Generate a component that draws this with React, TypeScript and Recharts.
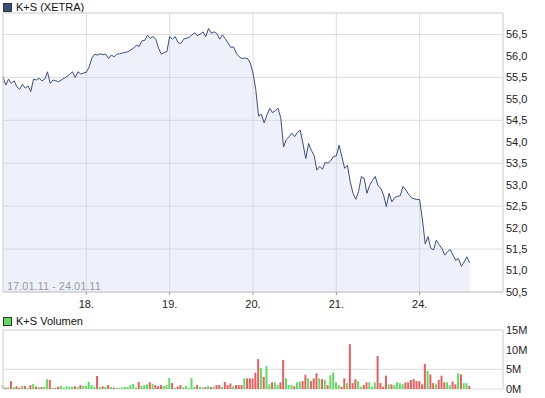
import React from "react";
import {
  Area,
  Bar,
  CartesianGrid,
  Cell,
  ComposedChart,
  ReferenceLine,
  XAxis,
  YAxis,
} from "recharts";

// 30 samples per trading day, x = sample index
const dayLabels = ["18.", "19.", "20.", "21.", "24."];
const dayTicks = [30, 60, 90, 120, 150];
const priceTicks = [50.5, 51, 51.5, 52, 52.5, 53, 53.5, 54, 54.5, 55, 55.5, 56, 56.5];
const volumeTicks = [0, 5, 10, 15];

const price = [
  // 17.
  55.52, 55.32, 55.46, 55.36, 55.42, 55.28, 55.22, 55.34, 55.25, 55.3,
  55.17, 55.46, 55.44, 55.48, 55.42, 55.46, 55.63, 55.36, 55.44, 55.42,
  55.4, 55.44, 55.48, 55.52, 55.57, 55.63, 55.5, 55.63, 55.58, 55.6,
  // 18.
  55.62, 55.74, 55.95, 56.04, 56.02, 56.05, 56.03, 56.04, 55.94, 56.02,
  55.98, 56.04, 56.05, 56.07, 56.08, 56.1, 56.14, 56.18, 56.25, 56.22,
  56.35, 56.36, 56.48, 56.41, 56.45, 56.39, 56.18, 56.04, 56.08, 56.1,
  // 19.
  56.45, 56.39, 56.45, 56.31, 56.29, 56.39, 56.41, 56.43, 56.49, 56.54,
  56.47, 56.51, 56.56, 56.45, 56.64, 56.53, 56.56, 56.52, 56.39, 56.49,
  56.4, 56.3, 56.2, 56.21, 56.06, 55.98, 55.94, 55.95, 55.94, 55.84,
  // 20.
  55.6, 55.22, 54.6, 54.64, 54.44, 54.62, 54.78, 54.68, 54.72, 54.78,
  54.56, 53.88, 54.05, 54.12, 54.2, 54.12, 54.22, 54.27, 53.95, 53.61,
  53.96, 53.8, 53.68, 53.34, 53.43, 53.36, 53.52, 53.5, 53.56, 53.66,
  // 21.
  53.67, 53.92, 53.65, 53.38, 53.45, 53.07, 52.8, 52.66, 52.84, 53.19,
  53.15, 52.8, 52.99, 53.1, 53.19, 52.98, 52.92, 52.76, 52.49, 52.8,
  52.6, 52.7, 52.73, 52.74, 52.96, 52.88, 52.78, 52.7, 52.67, 52.66,
  // 24.
  52.65, 52.18, 51.62, 51.79, 51.52, 51.48, 51.71, 51.6, 51.52, 51.36,
  51.44, 51.49, 51.36, 51.24, 51.28, 51.1, 51.2, 51.32, 51.18,
];

// volume in millions
const volume = [
  // 17.
  1.0, 0.35, 0.35, 2.0, 0.5, 0.7, 0.35, 0.8, 0.8, 0.3,
  1.0, 1.3, 0.6, 0.5, 0.5, 0.6, 2.5, 2.3, 0.3, 0.3,
  0.6, 0.8, 0.3, 0.7, 0.6, 0.6, 0.7, 0.5, 1.0, 0.8,
  // 18.
  0.8, 1.8, 1.0, 0.6, 3.3, 0.5, 0.7, 0.6, 1.0, 0.5,
  0.4, 0.3, 0.3, 0.4, 0.5, 0.5, 1.0, 1.3, 0.4, 1.8,
  0.8, 1.0, 1.2, 1.7, 1.3, 1.0, 0.7, 1.0, 0.8, 1.0,
  // 19.
  2.8, 1.5, 0.3, 0.6, 1.0, 0.4, 0.8, 0.3, 2.8, 0.6,
  1.0, 0.6, 0.4, 0.5, 0.8, 0.5, 0.6, 1.0, 1.0, 0.5,
  1.8, 1.0, 1.4, 0.7, 1.0, 1.0, 1.0, 2.7, 2.7, 2.7,
  // 20.
  2.7, 4.1, 7.6, 5.3, 3.1, 5.8, 1.2, 1.7, 1.7, 1.0,
  1.7, 7.4, 2.7, 1.0, 1.0, 0.7, 1.7, 1.9, 2.0, 3.6,
  2.7, 2.0, 2.7, 4.0, 2.7, 2.5, 2.3, 1.0, 3.5, 4.2,
  // 21.
  1.7, 1.0, 0.6, 2.7, 1.5, 11.4, 1.5, 2.5, 2.0, 0.6,
  1.0, 1.7, 1.7, 0.6, 1.7, 8.4, 1.5, 0.6, 3.4, 1.2,
  1.2, 1.0, 1.7, 1.5, 1.2, 1.7, 1.7, 2.3, 2.5, 2.0,
  // 24.
  2.0, 1.2, 6.4, 4.6, 3.7, 1.5, 1.2, 2.3, 3.4, 1.7,
  1.7, 1.0, 1.9, 1.2, 4.0, 3.7, 1.5, 1.5, 0.8,
];

const FONT = "'Liberation Sans', Arial, sans-serif";
const GRID = "#dcdcdc";
const UP = "#66d866";
const DOWN = "#e06262";
const FLAT = "#bdbdbd";

const priceData = price.map((p, i) => ({ t: i, p }));
const volumeData = volume.map((v, i) => ({ t: i, v }));

const barColor = (i: number) => {
  if (i === 0) return FLAT;
  const d = price[i] - price[i - 1];
  return d > 0 ? UP : d < 0 ? DOWN : FLAT;
};

const dayLabel = (v: number) => dayLabels[dayTicks.indexOf(v)] ?? "";
const euro = (v: number) => v.toFixed(1).replace(".", ",");

const tickStyle = { fontSize: 11, fill: "#222", fontFamily: FONT };

const LegendBox = ({ top, color, label }: { top: number; color: string; label: string }) => (
  <div style={{ position: "absolute", left: 3, top, height: 12, display: "flex", alignItems: "center" }}>
    <div style={{ width: 7, height: 7, background: color, border: "1px solid #333" }} />
    <span style={{ marginLeft: 4, fontSize: 11, fontFamily: FONT, color: "#111", lineHeight: "12px" }}>
      {label}
    </span>
  </div>
);

export default function App() {
  return (
    <div style={{ position: "absolute", left: 0, top: 0, width: 545, height: 398, background: "#fff" }}>
      <LegendBox top={1} color="#3d4e7a" label="K+S (XETRA)" />

      <div style={{ position: "absolute", left: 0, top: 0 }}>
        <ComposedChart width={545} height={315} data={priceData} margin={{ top: 13, right: 0, left: 3, bottom: 0 }}>
          <CartesianGrid stroke={GRID} />
          <XAxis
            dataKey="t"
            type="number"
            domain={[0, 180]}
            ticks={dayTicks}
            tickFormatter={dayLabel}
            height={23}
            tick={tickStyle}
            axisLine={{ stroke: "#c8c8c8" }}
            tickLine={{ stroke: "#999" }}
            tickSize={3}
            tickMargin={5}
          />
          <YAxis
            orientation="right"
            type="number"
            domain={[50.5, 57]}
            ticks={priceTicks}
            tickFormatter={euro}
            width={42}
            tick={tickStyle}
            axisLine={false}
            tickLine={false}
            tickSize={0}
            tickMargin={3}
          />
          <ReferenceLine y={57} stroke={GRID} />
          <ReferenceLine x={0} stroke={GRID} />
          <ReferenceLine x={180} stroke={GRID} />
          <Area
            type="linear"
            dataKey="p"
            stroke="#3d4e7a"
            strokeWidth={1}
            fill="#c8d2f0"
            fillOpacity={0.3}
            dot={false}
            activeDot={false}
            isAnimationActive={false}
          />
        </ComposedChart>
      </div>

      <div
        style={{
          position: "absolute",
          left: 7,
          top: 281,
          fontSize: 11,
          lineHeight: "11px",
          fontFamily: FONT,
          color: "#9a9a9a",
        }}
      >
        17.01.11 - 24.01.11
      </div>

      <LegendBox top={315} color={UP} label="K+S Volumen" />

      <div style={{ position: "absolute", left: 0, top: 320 }}>
        <ComposedChart width={545} height={75} data={volumeData} margin={{ top: 10, right: 0, left: 3, bottom: 6 }}>
          <CartesianGrid stroke={GRID} />
          <XAxis
            dataKey="t"
            type="number"
            domain={[0, 180]}
            ticks={dayTicks}
            height={0}
            tick={false}
            tickLine={false}
            axisLine={{ stroke: "#c8c8c8" }}
          />
          <YAxis
            orientation="right"
            type="number"
            domain={[0, 15]}
            ticks={volumeTicks}
            tickFormatter={(v: number) => `${v}M`}
            width={42}
            tick={tickStyle}
            axisLine={false}
            tickLine={false}
            tickSize={0}
            tickMargin={3}
          />
          <ReferenceLine y={15} stroke={GRID} />
          <ReferenceLine x={0} stroke={GRID} />
          <ReferenceLine x={180} stroke={GRID} />
          <Bar dataKey="v" barSize={2} isAnimationActive={false}>
            {volumeData.map((d) => (
              <Cell key={d.t} fill={barColor(d.t)} />
            ))}
          </Bar>
        </ComposedChart>
      </div>
    </div>
  );
}
